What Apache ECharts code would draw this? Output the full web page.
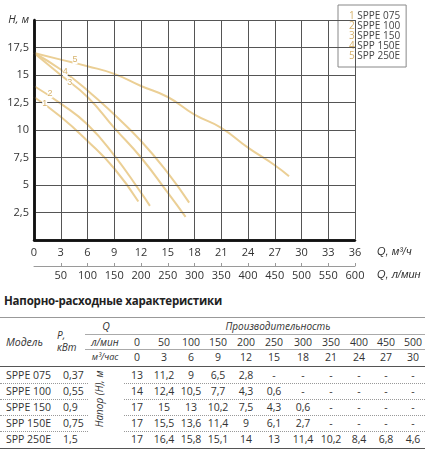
<!DOCTYPE html>
<html>
<head>
<meta charset="utf-8">
<script src="https://cdn.jsdelivr.net/npm/echarts@6/dist/echarts.min.js"></script>
<style>
  body { margin: 0; background: #fff; font-family: "Open Sans", sans-serif; color: #333; }
  #chart { position: absolute; left: 0; top: 0; width: 430px; height: 290px; }
  #table { position: absolute; left: 0; top: 290px; width: 430px; height: 160px; }
  .t { position: absolute; font-size: 10.5px; line-height: 14px; white-space: nowrap; transform: translate(0, -50%); }
  .c { transform: translate(-50%, -50%); }
  .i { font-style: italic; }
  .h { position: absolute; height: 0; }
</style>
</head>
<body>
<div id="chart"></div>
<div id="table"></div>
<script>
const flowM3 = [0, 3, 6, 9, 12, 15, 18, 21, 24, 27, 30];
const flowLpm = [0, 50, 100, 150, 200, 250, 300, 350, 400, 450, 500];
const models = ["SPPE 075", "SPPE 100", "SPPE 150", "SPP 150E", "SPP 250E"];
const powerKw = ["0,37", "0,55", "0,9", "0,75", "1,5"];
const headSPPE075 = [13, 11.2, 9, 6.5, 2.8];
const headSPPE100 = [14, 12.4, 10.5, 7.7, 4.3, 0.6];
const headSPPE150 = [17, 15, 13, 10.2, 7.5, 4.3, 0.6];
const headSPP150E = [17, 15.5, 13.6, 11.4, 9, 6.1, 2.7];
const headSPP250E = [17, 16.4, 15.8, 15.1, 14, 13, 11.4, 10.2, 8.4, 6.8, 4.6];
const heads = [headSPPE075, headSPPE100, headSPPE150, headSPP150E, headSPP250E];
// where each curve stops on the plot [Q, H]
const curveEnds = [[11.7, 3.5], [13, 3.1], [17, 2.1], [17.4, 3.4], [28.6, 5.8]];
// where the little numbers sit on the curves [Q, H]
const curveTags = [[1.2, 12.4], [1.8, 13.3], [4, 14.3], [3.5, 15.3], [4.6, 16.4]];
// grid line positions
const gridQ = [0, 3, 6, 9, 12, 15, 18, 21, 24, 27, 30, 33, 36];
const gridH = [0, 2.5, 5, 7.5, 10, 12.5, 15, 17.5, 20];

const lineColor = "#ebcf95";
const tagColor = "#d6b26c";

let chart = echarts.init(document.getElementById("chart"));

let series = models.map((name, k) => {
  let end = curveEnds[k];
  let pts = heads[k].map((h, i) => [flowM3[i], h]).filter(p => p[0] < end[0]);
  pts.push(end);
  return {
    name: name,
    type: "line",
    data: pts,
    smooth: true,
    showSymbol: false,
    color: lineColor,
    z: 3
  };
});

// grid drawn as mark lines so it always sits under the curves
let gridMarks = gridQ.map(q => ({ xAxis: q }))
  .concat(gridH.map(h => ({ yAxis: h })))
  .concat([
    { xAxis: 0, lineStyle: { color: "#111", width: 2.5, type: "solid" } },
    { yAxis: 0, lineStyle: { color: "#111", width: 2.5, type: "solid" } }
  ]);
series.push({
  name: "grid",
  type: "line",
  data: [[0, 0]],
  showSymbol: false,
  lineStyle: { width: 0 },
  z: 2,
  markLine: {
    silent: true,
    symbol: "none",
    label: { show: false },
    lineStyle: { color: "#555", width: 1, type: "solid" },
    data: gridMarks
  }
});

chart.setOption({
  animation: false,
  backgroundColor: "#fff",
  textStyle: { fontFamily: "Open Sans" },
  grid: { left: 34, top: 20, width: 321, height: 220 },
  legend: {
    data: models,
    left: 338,
    top: 5,
    orient: "vertical",
    selectedMode: false,
    icon: "none",
    itemWidth: 0,
    itemHeight: 10,
    itemGap: 0,
    padding: 6,
    backgroundColor: "#fff",
    borderColor: "#888",
    borderWidth: 1,
    textStyle: {
      fontSize: 10,
      color: "#444",
      rich: { n: { color: tagColor, fontSize: 10 } }
    },
    formatter: name => "{n|" + (models.indexOf(name) + 1) + "} " + name
  },
  xAxis: [
    {
      type: "value",
      min: 0,
      max: 36,
      interval: 3,
      axisLine: { show: true, onZero: false, lineStyle: { color: "#111", width: 2.5 } },
      axisTick: { show: false },
      axisLabel: { fontSize: 11, color: "#333", margin: 7 },
      splitLine: { show: true, lineStyle: { color: "#555", width: 1 } }
    },
    {
      type: "value",
      position: "bottom",
      offset: 26,
      min: 0,
      max: 600,
      interval: 50,
      axisLine: { show: true, onZero: false, lineStyle: { color: "#9a9a9a", width: 1 } },
      axisTick: { show: true, inside: true, length: 3 },
      axisLabel: { fontSize: 11, color: "#333", margin: 4, showMinLabel: false },
      splitLine: { show: true, lineStyle: { color: "#555", width: 1 } }
    }
  ],
  yAxis: {
    type: "value",
    min: 0,
    max: 20,
    interval: 2.5,
    axisLine: { show: true, lineStyle: { color: "#111", width: 2.5 } },
    axisTick: { show: false },
    axisLabel: {
      fontSize: 11,
      color: "#333",
      margin: 5,
      formatter: v => (v === 20 ? "{it|H, м}" : v === 0 ? "" : String(v).replace(".", ",")),
      rich: { it: { fontStyle: "italic" } }
    },
    splitLine: { show: true, lineStyle: { color: "#555", width: 1 } }
  },
  series: series
});

// axis names and the curve numbers, placed through the chart's own scales
let graphics = [
  { type: "text", left: 377, top: 246, style: { text: "Q, м³/ч", fontSize: 11, fontStyle: "italic", fill: "#333" } },
  { type: "text", left: 377, top: 269, style: { text: "Q, л/мин", fontSize: 11, fontStyle: "italic", fill: "#333" } }
];
curveTags.forEach((p, k) => {
  let px = chart.convertToPixel({ xAxisIndex: 0, yAxisIndex: 0 }, p);
  graphics.push({
    type: "text",
    x: px[0],
    y: px[1],
    z: 10,
    style: {
      text: String(k + 1),
      fontSize: 9,
      fill: tagColor,
      align: "center",
      verticalAlign: "middle",
      backgroundColor: "#fff"
    }
  });
});
chart.setOption({ graphic: graphics });

// table under the chart (y values below are page pixels)
const tbl = document.getElementById("table");
const top0 = 290;
const colX = [137, 164, 191, 218, 246, 274, 303, 331, 359, 386, 413];
const rowY = [374.5, 390.5, 406.5, 422.5, 438.5];

function put(text, x, y, cls, style) {
  let d = document.createElement("div");
  d.className = "t " + (cls || "");
  d.textContent = text;
  d.style.left = x + "px";
  d.style.top = (y - top0) + "px";
  if (style) Object.assign(d.style, style);
  tbl.appendChild(d);
  return d;
}
function hline(x1, x2, y, w, color, kind) {
  let d = document.createElement("div");
  d.className = "h";
  d.style.left = x1 + "px";
  d.style.width = (x2 - x1) + "px";
  d.style.top = (y - top0) + "px";
  d.style.borderTop = w + "px " + (kind || "solid") + " " + color;
  tbl.appendChild(d);
}

put("Напорно-расходные характеристики", 4, 301, "", { fontWeight: "bold", fontSize: "11.5px", letterSpacing: "-0.2px", color: "#222" });

hline(0, 425, 317, 1, "#999");
hline(85, 425, 334, 1, "#aaa");
hline(85, 425, 349, 1, "#aaa");
hline(0, 425, 366, 1.5, "#555");
[382.5, 398.5, 414.5, 430.5].forEach(y => {
  hline(0, 88, y, 1, "#999", "dotted");
  hline(124, 425, y, 1, "#999", "dotted");
});
hline(0, 425, 447.5, 1.5, "#555");

put("Модель", 6, 342, "i");
put("P,", 57, 335, "i", { fontSize: "10px" });
put("кВт", 57, 346.5, "i", { fontSize: "10px" });
put("Q", 106, 326, "c i");
put("Производительность", 278, 326, "c i", { fontSize: "10px" });
put("л/мин", 105, 342, "c i", { fontSize: "10px" });
put("м³/час", 105, 357, "c i", { fontSize: "9px" });
put("Напор (Н), м", 99, 399, "i", {
  fontSize: "10px",
  transform: "translate(-50%, -50%) rotate(-90deg)"
});

flowLpm.forEach((v, i) => put(String(v), colX[i], 342, "c"));
flowM3.forEach((v, i) => put(String(v), colX[i], 357, "c"));

models.forEach((m, r) => {
  put(m, 6, rowY[r]);
  put(powerKw[r], 63, rowY[r]);
  flowM3.forEach((q, i) => {
    let h = heads[r][i];
    put(h === undefined ? "-" : String(h).replace(".", ","), colX[i], rowY[r], "c");
  });
});
</script>
</body>
</html>
